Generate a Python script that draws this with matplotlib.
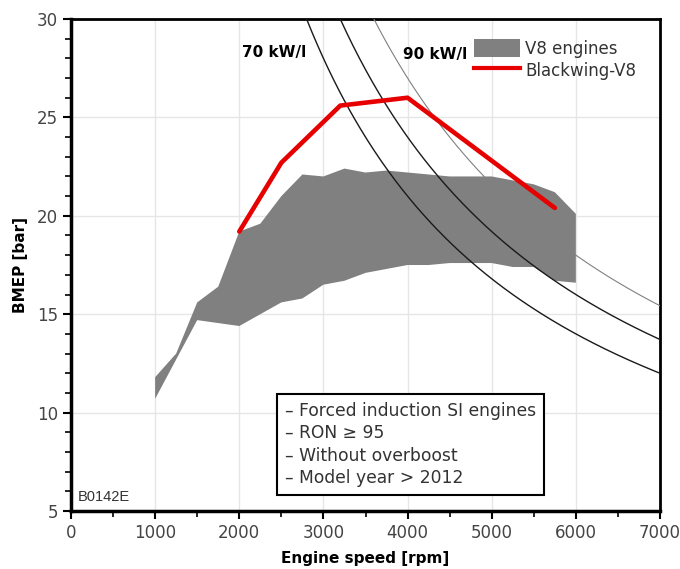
import numpy as np
import matplotlib
matplotlib.use("Agg")
import matplotlib.pyplot as plt
from matplotlib.patches import Patch
from matplotlib.lines import Line2D
from matplotlib.ticker import MultipleLocator

# V8 engine scatter band (upper and lower envelope)
band_upper_rpm = [1000, 1250, 1500, 1750, 2000, 2250, 2500, 2750, 3000, 3250,
                  3500, 3750, 4000, 4500, 5000, 5250, 5500, 5750, 6000]
band_upper_bmep = [11.8, 13.0, 15.6, 16.4, 19.2, 19.6, 21.0, 22.1, 22.0, 22.4,
                   22.2, 22.3, 22.2, 22.0, 22.0, 21.8, 21.6, 21.2, 20.1]
band_lower_rpm = [1000, 1500, 2000, 2500, 2750, 3000, 3250, 3500, 4000, 4250,
                  4500, 5000, 5250, 5500, 5750, 6000]
band_lower_bmep = [10.7, 14.7, 14.4, 15.6, 15.8, 16.5, 16.7, 17.1, 17.5, 17.5,
                   17.6, 17.6, 17.4, 17.4, 16.7, 16.6]

# Blackwing-V8 full load
bw_rpm = [2000, 2500, 3200, 4000, 5750]
bw_bmep = [19.2, 22.7, 25.6, 26.0, 20.4]

# specific power lines [kW/l]
power_levels = [70, 80, 90]
power_colors = ["#1a1a1a", "#1a1a1a", "#808080"]
power_widths = [1.0, 1.0, 0.8]

notes = ["\u2013 Forced induction SI engines",
         "\u2013 RON \u2265 95",
         "\u2013 Without overboost",
         "\u2013 Model year > 2012"]

fig = plt.figure(figsize=(6.8, 5.69), dpi=100)
ax = fig.add_axes([0.1044, 0.1019, 0.8662, 0.8647])

ax.grid(True, color="#e6e6e6", linewidth=1.0, zorder=0)

# gray band as polygon
poly_x = np.concatenate([band_upper_rpm, band_lower_rpm[::-1]])
poly_y = np.concatenate([band_upper_bmep, band_lower_bmep[::-1]])
ax.fill(poly_x, poly_y, color="#808080", linewidth=0, zorder=2)

# 4-stroke: BMEP[bar] = 1200 * P_l[kW/l] / n[rpm]
for p, c, lw in zip(power_levels, power_colors, power_widths):
    n = np.linspace(1200 * p / 30.0, 7000, 200)
    ax.plot(n, 1200 * p / n, color=c, linewidth=lw, zorder=3)

ax.plot(bw_rpm, bw_bmep, color="#e60000", linewidth=3.3, zorder=4,
        solid_capstyle="round")

ax.text(2420, 28.3, "70 kW/l", fontsize=11, fontweight="bold",
        ha="center", va="center", zorder=5)
ax.text(4330, 28.2, "90 kW/l", fontsize=11, fontweight="bold",
        ha="center", va="center", zorder=5)

ax.text(2540, 10.55, "\n".join(notes), fontsize=12.3, color="#333333",
        ha="left", va="top", linespacing=1.32, zorder=6,
        bbox=dict(boxstyle="square,pad=0.45", facecolor="white",
                  edgecolor="black", linewidth=1.5))

ax.text(0.012, 0.015, "B0142E", transform=ax.transAxes, fontsize=10.5,
        color="#333333", family="Liberation Sans",
        ha="left", va="bottom")

handles = [Patch(facecolor="#808080", edgecolor="none", label="V8 engines"),
           Line2D([], [], color="#e60000", linewidth=3, label="Blackwing-V8")]
ax.legend(handles=handles, loc="upper right", bbox_to_anchor=(0.985, 0.99),
          frameon=False, fontsize=12, handlelength=2.8, handleheight=1.3,
          handletextpad=0.3, labelspacing=0.2, labelcolor="#333333")

ax.set_xlim(0, 7000)
ax.set_ylim(5, 30)
ax.xaxis.set_major_locator(MultipleLocator(1000))
ax.xaxis.set_minor_locator(MultipleLocator(500))
ax.yaxis.set_major_locator(MultipleLocator(5))
ax.yaxis.set_minor_locator(MultipleLocator(1))
ax.tick_params(which="major", length=6, width=1.5, labelsize=12,
               labelcolor="#444444", direction="out")
ax.tick_params(which="minor", length=4, width=1.2, direction="out")

for side in ["left", "bottom"]:
    ax.spines[side].set_linewidth(2.5)
for side in ["top", "right"]:
    ax.spines[side].set_linewidth(2.0)

ax.set_xlabel("Engine speed [rpm]", fontsize=11, fontweight="bold", labelpad=6)
ax.set_ylabel("BMEP [bar]", fontsize=11, fontweight="bold", labelpad=6)

fig.savefig("out.png", dpi=100)
